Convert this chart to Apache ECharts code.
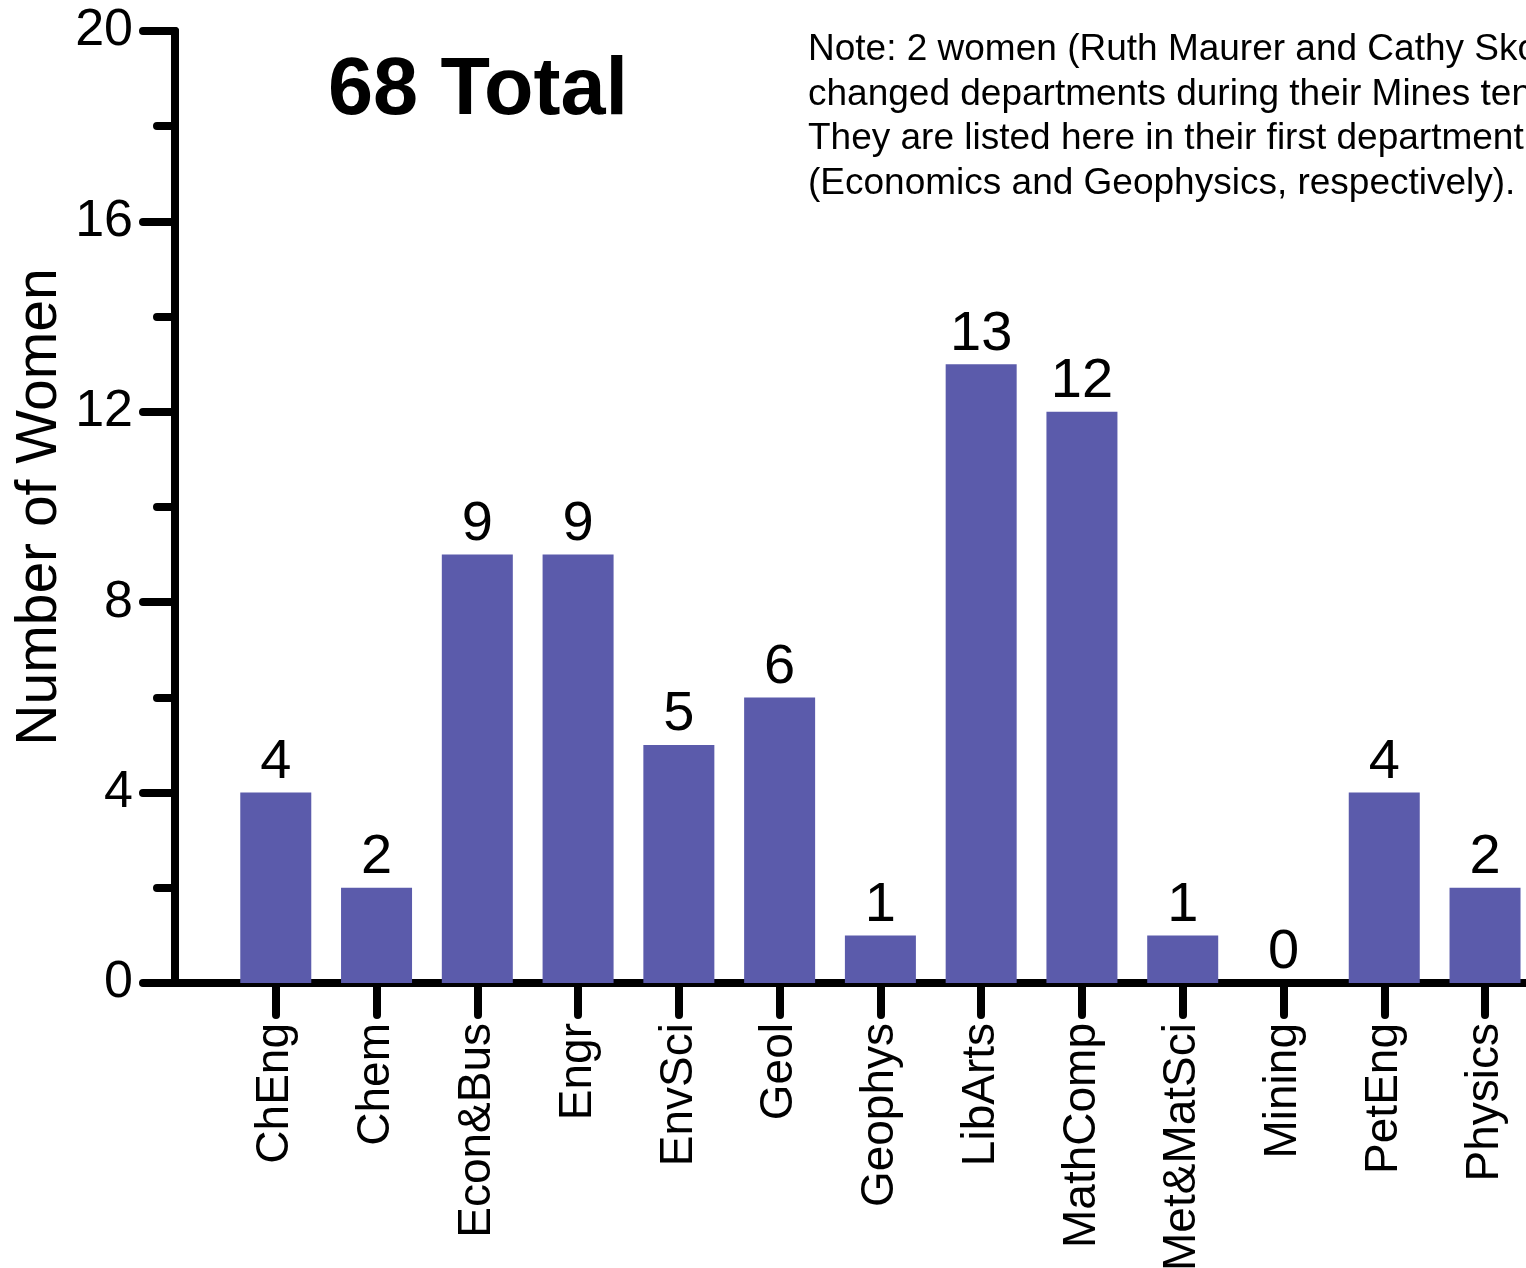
<!DOCTYPE html>
<html>
<head>
<meta charset="utf-8">
<script src="https://cdn.jsdelivr.net/npm/echarts@6/dist/echarts.min.js"></script>
<style>
html,body{margin:0;padding:0;background:#fff;}
#chart{width:1526px;height:1268px;}
</style>
</head>
<body>
<div id="chart"></div>
<script>
const categories = ['ChEng','Chem','Econ&Bus','Engr','EnvSci','Geol','Geophys','LibArts','MathComp','Met&MatSci','Mining','PetEng','Physics'];
const counts = [4,2,9,9,5,6,1,13,12,1,0,4,2];
const yTicks = [0,4,8,12,16,20];
const titleText = '68 Total';
const noteLines = [
  'Note: 2 women (Ruth Maurer and Cathy Skokan)',
  'changed departments during their Mines tenure.',
  'They are listed here in their first department',
  '(Economics and Geophysics, respectively).'
];

const FONT = '"Liberation Sans", Arial, Helvetica, sans-serif';
const paddedCats = [''].concat(categories, ['']);
const paddedData = [null].concat(counts, [null]);

const chart = echarts.init(document.getElementById('chart'), null, {renderer:'canvas'});
chart.setOption({
  backgroundColor: '#ffffff',
  animation: false,
  textStyle: {fontFamily: FONT, color: '#000'},
  title: [
    {text: titleText, left: 328, top: 51, padding: 0,
     textStyle: {fontFamily: FONT, fontSize: 81, fontWeight: 'bold', color: '#000', lineHeight: 81}},
    {text: noteLines.join('\n'), left: 808, top: 28, padding: 0,
     textStyle: {fontFamily: FONT, fontSize: 37, fontWeight: 'normal', color: '#000', lineHeight: 44.5}}
  ],
  grid: {left: 175, right: -59.8, top: 31, bottom: 285, containLabel: false, outerBoundsMode: 'none'},
  xAxis: {
    type: 'category',
    data: paddedCats,
    boundaryGap: false,
    axisLine: {lineStyle: {color: '#000', width: 8}},
    axisTick: {
      length: 32,
      interval: function (idx, val) { return val !== ''; },
      lineStyle: {color: '#000', width: 8, cap: 'round'}
    },
    axisLabel: {
      interval: 0,
      rotate: 90,
      margin: 40,
      fontSize: 46,
      color: '#000',
      fontFamily: FONT
    },
    splitLine: {show: false}
  },
  yAxis: {
    type: 'value',
    min: yTicks[0],
    max: yTicks[yTicks.length - 1],
    interval: yTicks[1] - yTicks[0],
    name: 'Number of Women',
    nameLocation: 'middle',
    nameRotate: 90,
    nameGap: 106,
    nameMoveOverlap: false,
    nameTextStyle: {fontSize: 57, color: '#000', fontFamily: FONT},
    axisLine: {show: true, lineStyle: {color: '#000', width: 8}},
    axisTick: {show: true, length: 32, lineStyle: {color: '#000', width: 8, cap: 'round'}},
    minorTick: {show: true, splitNumber: 2, length: 18, lineStyle: {color: '#000', width: 8, cap: 'round'}},
    axisLabel: {margin: 42, fontSize: 52, color: '#000', fontFamily: FONT},
    splitLine: {show: false}
  },
  series: [{
    type: 'bar',
    data: paddedData,
    barWidth: 71,
    itemStyle: {color: '#5B5BAB'},
    label: {show: true, position: 'top', distance: 2, fontSize: 56, color: '#000', fontFamily: FONT},
    clip: false
  }]
});
</script>
</body>
</html>
